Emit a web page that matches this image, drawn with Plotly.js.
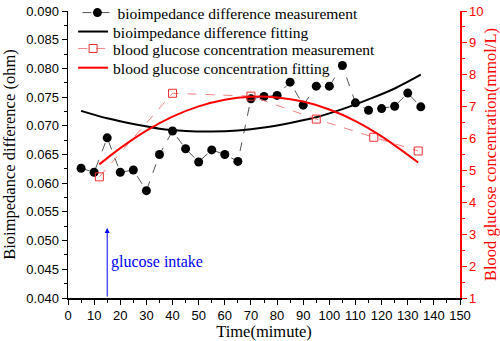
<!DOCTYPE html>
<html><head><meta charset="utf-8">
<script src="https://cdn.plot.ly/plotly-3.0.1.min.js"></script>
<style>html,body{margin:0;padding:0;background:#fff}#chart{width:500px;height:341px}</style>
</head><body><div id="chart"></div>
<script>
const bioTime = [5,10,15,20,25,30,35,40,45,50,55,60,65,70,75,80,85,90,95,100,105,110,115,120,125,130,135];
const bioValue = [0.0626,0.0619,0.0679,0.0619,0.0623,0.0587,0.0650,0.0691,0.0660,0.0637,0.0658,0.0650,0.0638,0.0747,0.0751,0.0753,0.0776,0.0736,0.0769,0.0769,0.0805,0.0740,0.0727,0.0730,0.0734,0.0757,0.0733];
const bioFitTime = [5,15,25,35,45,55,65,75,85,95,105,115,125,135];
const bioFitValue = [0.0726,0.0713,0.0703,0.0695,0.0691,0.0690,0.0692,0.0697,0.0705,0.0715,0.0729,0.0746,0.0765,0.0789];
const gluTime = [12,40,70,95,117,134];
const gluValue = [4.80,7.42,7.33,6.61,6.04,5.61];
const gluFitTime = [12,20,30,40,50,60,70,80,90,100,110,120,134];
const gluFitValue = [5.19,5.70,6.25,6.69,7.01,7.22,7.31,7.29,7.16,6.91,6.55,6.07,5.25];
const names = ['bioimpedance difference measurement','bioimpedance difference fitting','blood glucose concentration measurement','blood glucose concentration fitting'];

const serif = 'Liberation Serif, Times New Roman, serif';
const sans = 'Liberation Sans, Arial, sans-serif';

const traces = [
  {x: bioTime, y: bioValue, name: names[0], mode: 'lines+markers', type: 'scatter', legend: 'legend',
   line: {color: '#555', width: 1, dash: 'dash'}, marker: {color: '#000', size: 9, symbol: 'circle'}},
  {x: bioFitTime, y: bioFitValue, name: names[1], mode: 'lines', type: 'scatter', legend: 'legend2',
   line: {color: '#000', width: 2, shape: 'spline'}},
  {x: gluTime, y: gluValue, name: names[2], mode: 'lines+markers', type: 'scatter', yaxis: 'y2', legend: 'legend3',
   line: {color: '#f28080', width: 1, dash: 'dash'}, marker: {color: '#f03030', size: 8, symbol: 'square-open', line: {width: 1}}},
  {x: gluFitTime, y: gluFitValue, name: names[3], mode: 'lines', type: 'scatter', yaxis: 'y2', legend: 'legend4',
   line: {color: '#ff0000', width: 2, shape: 'spline'}}
];

function leg(x, y) {
  return {x: x, y: y, xanchor: 'left', yanchor: 'middle', bgcolor: 'rgba(0,0,0,0)',
          font: {family: serif, size: 15.5, color: '#000'}};
}

const layout = {
  width: 500, height: 341,
  margin: {l: 68, r: 40, t: 11, b: 43, autoexpand: false},
  paper_bgcolor: '#fff', plot_bgcolor: '#fff',
  showlegend: true,
  legend: leg(0.024, 0.993),
  legend2: leg(0.013, 0.927),
  legend3: leg(0.013, 0.868),
  legend4: leg(0.013, 0.801),
  xaxis: {range: [0, 150], dtick: 10, tick0: 0, showgrid: false, zeroline: false,
          showline: true, linecolor: '#000', linewidth: 1.5, ticks: 'outside', ticklen: 5, tickcolor: '#000',
          minor: {dtick: 5, ticks: 'outside', ticklen: 3, tickcolor: '#000', showgrid: false},
          tickfont: {family: sans, size: 13, color: '#000'},
          title: {text: 'Time(mimute)', font: {family: serif, size: 16.5, color: '#000'}, standoff: 2}},
  yaxis: {range: [0.040, 0.090], dtick: 0.005, tick0: 0.04, tickformat: '.3f', showgrid: false, zeroline: false,
          showline: true, linecolor: '#000', linewidth: 1.5, ticks: 'outside', ticklen: 5, tickcolor: '#000',
          minor: {dtick: 0.0025, ticks: 'outside', ticklen: 3, tickcolor: '#000', showgrid: false},
          tickfont: {family: sans, size: 13, color: '#000'},
          title: {text: 'Bioimpedance difference (ohm)', font: {family: serif, size: 16.5, color: '#000'}, standoff: 6}},
  yaxis2: {range: [1, 10], dtick: 1, overlaying: 'y', side: 'right', showgrid: false, zeroline: false,
           showline: true, linecolor: '#ff0000', linewidth: 1.5, ticks: 'outside', ticklen: 5, tickcolor: '#ff0000',
           minor: {dtick: 0.5, ticks: 'outside', ticklen: 3, tickcolor: '#ff0000', showgrid: false},
           tickfont: {family: sans, size: 13, color: '#ff0000'},
           title: {text: 'Blood glucose concentration(mmol/L)', font: {family: serif, size: 16.5, color: '#ff0000'}, standoff: 3}},
  annotations: [
    {x: 15, y: 0.0522, ax: 15, ay: 0.0400, xref: 'x', yref: 'y', axref: 'x', ayref: 'y',
     text: '', showarrow: true, arrowhead: 2, arrowsize: 1, arrowwidth: 1, arrowcolor: '#0000ff'},
    {x: 15.6, y: 0.0463, xref: 'x', yref: 'y', xanchor: 'left', yanchor: 'middle', showarrow: false,
     text: 'glucose intake', font: {family: serif, size: 16, color: '#0000ff'}}
  ]
};
Plotly.newPlot('chart', traces, layout, {displayModeBar: false, staticPlot: true});
</script></body></html>
